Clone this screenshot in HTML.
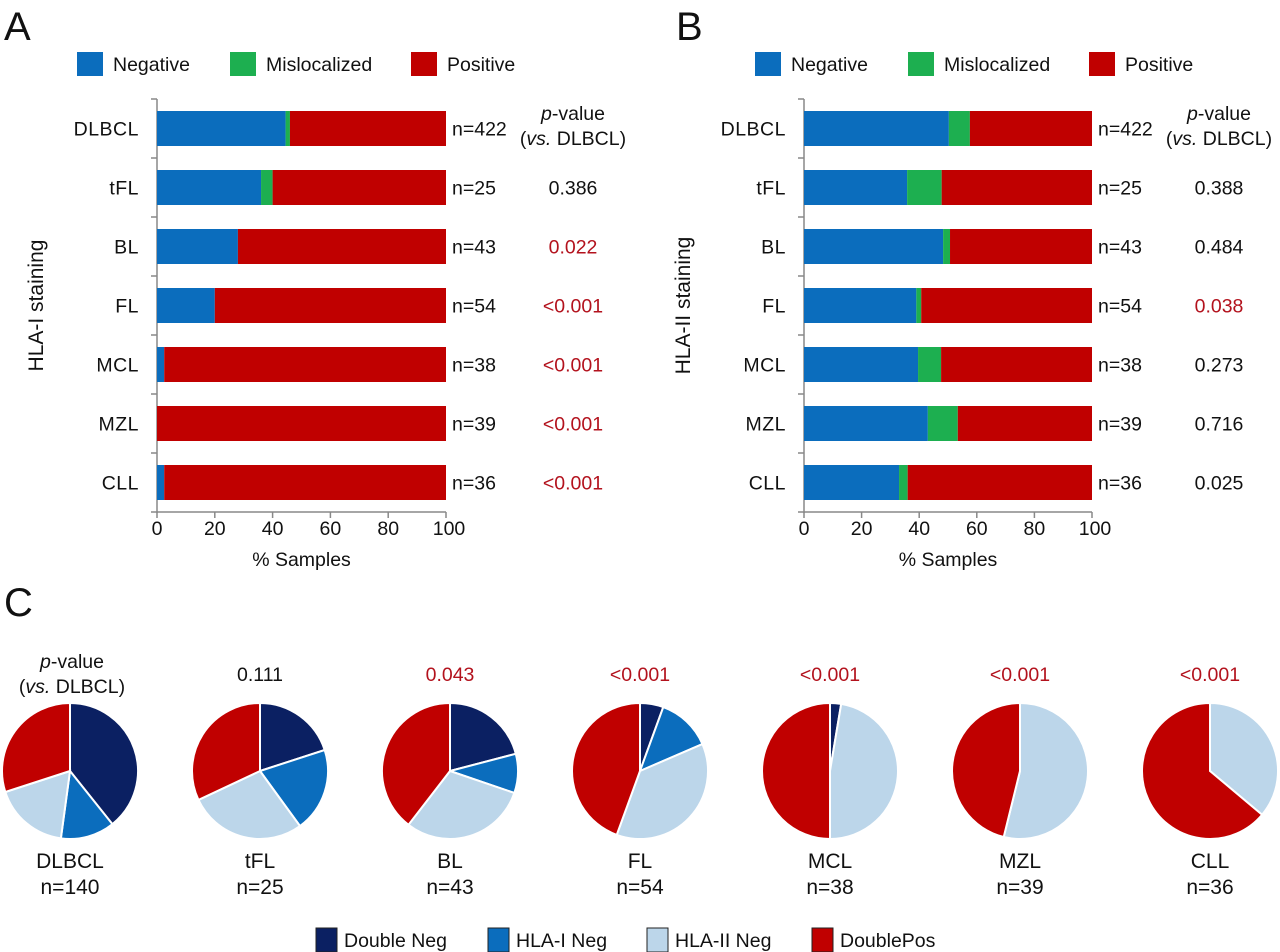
<!DOCTYPE html>
<html><head><meta charset="utf-8"><style>
html,body{margin:0;padding:0;background:#fff;}
svg{display:block;font-family:"Liberation Sans",sans-serif;}
</style></head><body>
<svg id="fig" width="1280" height="952" viewBox="0 0 1280 952">
<text x="4" y="40" font-size="40" fill="#111">A</text>
<text x="676" y="40" font-size="40" fill="#111">B</text>
<text x="4" y="616" font-size="40" fill="#111">C</text>
<g id="legA"></g>
<g id="legB"></g>
<g id="chartA"></g>
<g id="chartB"></g>
<g id="pies"></g>
<g id="legC"></g>
</svg>
<script>
const categories = ["DLBCL","tFL","BL","FL","MCL","MZL","CLL"];
const nLabels = ["n=422","n=25","n=43","n=54","n=38","n=39","n=36"];
const negA = [44.5,36,28,20,2.5,0,2.5];
const misA = [1.5,4,0,0,0,0,0];
const pA = ["","0.386","0.022","<0.001","<0.001","<0.001","<0.001"];
const pASig = [false,false,true,true,true,true,true];
const negB = [50.3,35.8,48.3,39,39.6,43,33];
const misB = [7.3,12,2.4,1.7,8,10.4,3];
const pB = ["","0.388","0.484","0.038","0.273","0.716","0.025"];
const pBSig = [false,false,false,true,false,false,false];
const xTicks = [0,20,40,60,80,100];
const pieCats = ["DLBCL","tFL","BL","FL","MCL","MZL","CLL"];
const pieN = ["n=140","n=25","n=43","n=54","n=38","n=39","n=36"];
const pieP = ["","0.111","0.043","<0.001","<0.001","<0.001","<0.001"];
const doubleNeg = [55,5,9,3,1,0,0];
const hla1Neg = [18,5,4,7,0,0,0];
const hla2Neg = [25,7,13,20,18,21,13];
const doublePos = [42,8,17,24,19,18,23];

const NS="http://www.w3.org/2000/svg";
const BLUE="#0b6dbd",GREEN="#1daf50",RED="#c00000",NAVY="#0b2062",LBLUE="#bcd6ea",PRED="#b3121d";
const FS=19.5;
function mk(tag,attrs,parent,txt){const e=document.createElementNS(NS,tag);for(const k in attrs)e.setAttribute(k,attrs[k]);if(txt!==undefined)e.textContent=txt;parent.appendChild(e);return e;}

function legendTop(g,x0){
  const items=[["Negative",BLUE],["Mislocalized",GREEN],["Positive",RED]];
  const offs=[0,153,334];
  items.forEach((it,i)=>{
    const r=mk('rect',{x:x0+offs[i],y:52,width:26,height:24,fill:it[1]},g);
    
    
    const t=mk('text',{x:x0+offs[i]+36,y:71,'font-size':FS,fill:'#111'},g,it[0]);
    
    
  });
}
legendTop(document.getElementById('legA'),77);
legendTop(document.getElementById('legB'),755);

function barChart(g,x0,x1,neg,mis,pv,sig,yTitle,suffix){
  const xs=v=>x0+(x1-x0)*v/100;
  const top=99,pitch=59,bh=35;
  const yc=i=>top+pitch*i+pitch/2;
  let a=mk('line',{x1:x0,y1:top,x2:x0,y2:top+pitch*7+1,stroke:'#888','stroke-width':1.5},g);
  
  for(let i=0;i<=7;i++) mk('line',{x1:x0-6,y1:top+pitch*i,x2:x0,y2:top+pitch*i,stroke:'#888','stroke-width':1.5},g);
  const yb=top+pitch*7;
  a=mk('line',{x1:x0,y1:yb,x2:x1,y2:yb,stroke:'#888','stroke-width':1.5},g);
  
  xTicks.forEach(t=>{
    mk('line',{x1:xs(t),y1:yb,x2:xs(t),y2:yb+6,stroke:'#888','stroke-width':1.5},g);
    const tl=mk('text',{x:xs(t)+(t===100?3:0),y:yb+23,'font-size':FS,'text-anchor':'middle',fill:'#111'},g,t);
    
  });
  const xt=mk('text',{x:(x0+x1)/2,y:yb+54,'font-size':FS,'text-anchor':'middle',fill:'#111'},g,'% Samples');
  
  const ytx=x0-114,yty=top+pitch*3.5;
  const yt=mk('text',{x:ytx,y:yty,'font-size':21,'text-anchor':'middle',fill:'#111',transform:`rotate(-90 ${ytx} ${yty})`},g,yTitle);
  
  categories.forEach((c,i)=>{
    const y=yc(i)-bh/2;
    const cl=mk('text',{x:x0-18,y:yc(i)+7,'font-size':FS,'text-anchor':'end',fill:'#111','letter-spacing':'0.5'},g,c);
    
    let r=mk('rect',{x:xs(0),y:y,width:xs(neg[i])-xs(0),height:bh,fill:BLUE},g);
    
    r=mk('rect',{x:xs(neg[i]),y:y,width:xs(neg[i]+mis[i])-xs(neg[i]),height:bh,fill:GREEN},g);
    
    r=mk('rect',{x:xs(neg[i]+mis[i]),y:y,width:xs(100)-xs(neg[i]+mis[i]),height:bh,fill:RED},g);
    
    const nl=mk('text',{x:x1+6,y:yc(i)+7,'font-size':FS,fill:'#111'},g,nLabels[i]);
    
    if(pv[i]){
      const pl=mk('text',{x:x1+127,y:yc(i)+7,'font-size':FS,'text-anchor':'middle',fill:sig[i]?PRED:'#111'},g,pv[i]);
      
    }
  });
  const h1=mk('text',{x:x1+127,y:120,'font-size':FS,'text-anchor':'middle',fill:'#111'},g);
  
  mk('tspan',{'font-style':'italic'},h1,'p');mk('tspan',{},h1,'-value');
  const h2=mk('text',{x:x1+127,y:145,'font-size':FS,'text-anchor':'middle',fill:'#111'},g);
  
  mk('tspan',{},h2,'(');mk('tspan',{'font-style':'italic'},h2,'vs.');mk('tspan',{},h2,' DLBCL)');
}
barChart(document.getElementById('chartA'),157,446,negA,misA,pA,pASig,'HLA-I staining','a');
barChart(document.getElementById('chartB'),804,1092,negB,misB,pB,pBSig,'HLA-II staining','b');

const pg=document.getElementById('pies');
const pieCols=[NAVY,BLUE,LBLUE,RED];
const pieSeries=[doubleNeg,hla1Neg,hla2Neg,doublePos];
const pieNames=['double-neg','hla-i-neg','hla-ii-neg','double-pos'];
pieCats.forEach((c,i)=>{
  const cx=70+190*i,cy=771,r=68;
  const tot=pieSeries.reduce((s,a)=>s+a[i],0);
  let ang=0;
  pieSeries.forEach((arr,k)=>{
    const v=arr[i];if(v<=0)return;
    const a0=ang,a1=ang+v/tot*2*Math.PI;ang=a1;
    const p0=[cx+r*Math.sin(a0),cy-r*Math.cos(a0)],p1=[cx+r*Math.sin(a1),cy-r*Math.cos(a1)];
    const large=(a1-a0)>Math.PI?1:0;
    let d;
    if(v===tot) d=`M${cx} ${cy-r}A${r} ${r} 0 1 1 ${cx-0.01} ${cy-r}Z`;
    else d=`M${cx} ${cy}L${p0[0]} ${p0[1]}A${r} ${r} 0 ${large} 1 ${p1[0]} ${p1[1]}Z`;
    const s=mk('path',{d:d,fill:pieCols[k],stroke:'#fff','stroke-width':2},pg);
    
    
  });
  const l=mk('text',{x:cx,y:868,'font-size':21,'text-anchor':'middle',fill:'#111'},pg,c);
  
  const n=mk('text',{x:cx,y:894,'font-size':21,'text-anchor':'middle',fill:'#111'},pg,pieN[i]);
  
  if(pieP[i]){
    const p=mk('text',{x:cx,y:681,'font-size':FS,'text-anchor':'middle',fill:pieP[i]==='0.111'?'#111':PRED},pg,pieP[i]);
    
  }
});
const ph1=mk('text',{x:72,y:668,'font-size':FS,'text-anchor':'middle',fill:'#111'},pg);

mk('tspan',{'font-style':'italic'},ph1,'p');mk('tspan',{},ph1,'-value');
const ph2=mk('text',{x:72,y:693,'font-size':FS,'text-anchor':'middle',fill:'#111'},pg);

mk('tspan',{},ph2,'(');mk('tspan',{'font-style':'italic'},ph2,'vs.');mk('tspan',{},ph2,' DLBCL)');

const lc=document.getElementById('legC');
const lItems=[["Double Neg",NAVY,316],["HLA-I Neg",BLUE,488],["HLA-II Neg",LBLUE,647],["DoublePos",RED,812]];
lItems.forEach(it=>{
  const r=mk('rect',{x:it[2],y:928,width:21,height:24,fill:it[1],stroke:'#222','stroke-width':1},lc);
  
  
  const t=mk('text',{x:it[2]+28,y:947,'font-size':FS,fill:'#111'},lc,it[0]);
  
  
});
</script>
</body></html>
